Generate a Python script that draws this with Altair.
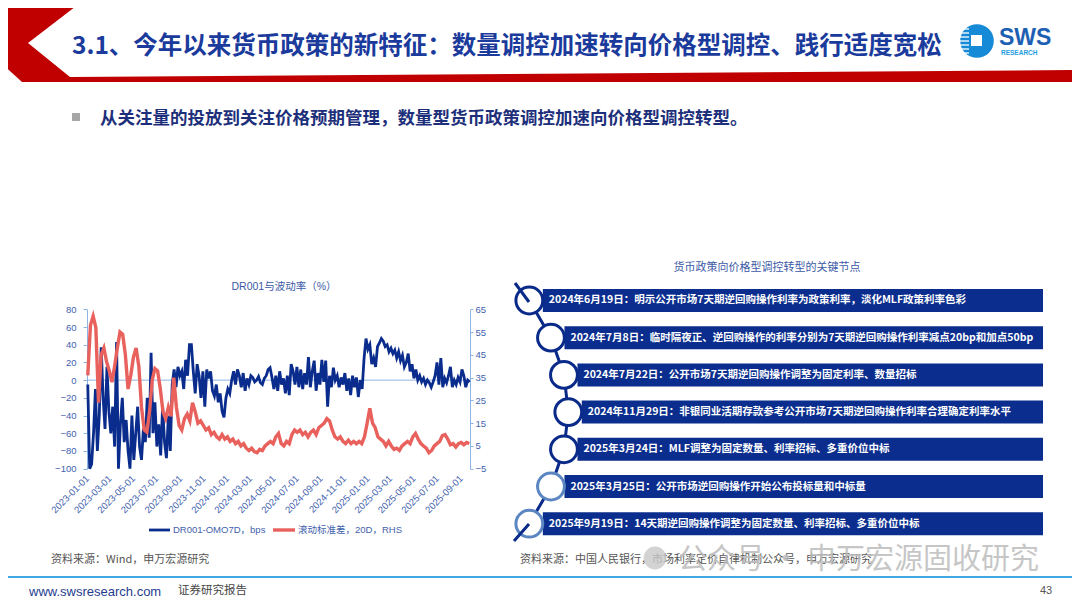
import altair as alt
import pandas as pd

W, H = 1064, 592
CJK = "Noto Sans CJK SC"
SANS = "Liberation Sans, Arial, Noto Sans CJK SC"

# ---------------- data ----------------
dr_values = [
    -5, -100, -95, -60, -10, -80, -40, 37, -20, -55,
    15, -35, -60, -30, -75, 43, -100, -50, -20, -70,
    -45, -80, -100, -40, -90, -60, -30, -75, -90, -55,
    -70, -20, -65, 31, -60, -25, -75, -50, -85, -30,
    -70, -88, -40, -80, -5, 12, -8, 15, 5, 10,
    -10, 23, 5, 40, 40, 10, -15, 18, 5, -20,
    10, -30, 12, 2, 10, -12, -18, -5, -25, -15,
    -35, -42, -20, -10, -15, 0, 10, -5, 12, 5,
    -8, 8, -12, 2, -5, 5, 3, -2, 0, 4,
    -3, -5, 2, 5, 12, 14, 3, -10, 5, -12,
    10, -5, 2, -15, 5, -17, 18, 10, -5, 15,
    -8, 12, -10, 8, -5, 26, -8, 10, 22, -12,
    8, -5, 23, -2, 22, -30, 5, -8, 14, 0,
    5, -8, 3, -5, 8, -12, 2, -17, 5, -8,
    3, -19, 0, -10, 25, 47, 35, 40, 18, 25,
    15, 38, 42, 47, 44, 38, 40, 32, 36, 30,
    34, 25, 32, 22, 28, 15, 20, 30, 10, 18,
    2, 12, 0, 5, -2, 2, -5, 0, -3, -8,
    -2, 5, 20, -5, 25, -8, 2, -3, 5, 15,
    -8, 0, -5, 3, -2, 12, 5, -8, 0, -2,
]
std_values = [
    36, 58, 62, 57, 24, 45, 48, 42, 38, 33,
    40, 48, 55, 54, 45, 30, 36, 44, 48, 40,
    22, 12, 11, 20, 34, 39, 38, 30, 20, 17,
    22, 18, 35, 22, 14, 12, 17, 19, 16, 24,
    20, 15, 16, 14, 12, 13, 10, 11, 9, 8,
    10, 8, 9, 7, 8, 6, 7, 5, 6, 4,
    3, 4, 2.5, 2, 3.5, 3, 5, 6, 7, 6,
    9, 10.5, 6, 5, 7, 6, 10, 12, 11, 12,
    10, 11, 9, 11, 12, 10, 13, 14, 15, 17,
    16, 12, 9, 8, 9, 7, 6, 7.5, 6, 7,
    6, 7, 6, 9, 15, 21.5, 15, 13, 9, 8,
    7, 5, 7, 5, 3.5, 4, 3, 5, 6, 7,
    6, 9, 10.5, 8, 6, 5, 4, 2, 3, 5,
    6, 7, 9.5, 10, 8, 5.5, 6, 4.5, 6, 6.5,
    5.5, 6.5, 6,
]
dr_dates = pd.date_range("2023-01-03", periods=len(dr_values), freq="5D").strftime("%Y-%m-%d").tolist()
std_dates = pd.date_range("2023-01-03", periods=len(std_values), freq="7D").strftime("%Y-%m-%d").tolist()

x_ticks = ["2023-01-01", "2023-03-01", "2023-05-01", "2023-07-01", "2023-09-01",
           "2023-11-01", "2024-01-01", "2024-03-01", "2024-05-01", "2024-07-01",
           "2024-09-01", "2024-11-01", "2025-01-01", "2025-03-01", "2025-05-01",
           "2025-07-01", "2025-09-01"]
left_ticks = [-100, -80, -60, -40, -20, 0, 20, 40, 60, 80]
right_ticks = [-5, 5, 15, 25, 35, 45, 55, 65]

series_names = ["DR001-OMO7D，bps", "滚动标准差，20D，RHS"]

events = [
    "2024年6月19日：明示公开市场7天期逆回购操作利率为政策利率，淡化MLF政策利率色彩",
    "2024年7月8日：临时隔夜正、逆回购操作的利率分别为7天期逆回购操作利率减点20bp和加点50bp",
    "2024年7月22日：公开市场7天期逆回购操作调整为固定利率、数量招标",
    "2024年11月29日：非银同业活期存款参考公开市场7天期逆回购操作利率合理确定利率水平",
    "2025年3月24日：MLF调整为固定数量、利率招标、多重价位中标",
    "2025年3月25日：公开市场逆回购操作开始公布投标量和中标量",
    "2025年9月19日：14天期逆回购操作调整为固定数量、利率招标、多重价位中标",
]
ring_colors = ["#0a2a8a"] * 5 + ["#5b86c2"] * 2

title_text = "3.1、今年以来货币政策的新特征：数量调控加速转向价格型调控、践行适度宽松"
subtitle_text = "从关注量的投放到关注价格预期管理，数量型货币政策调控加速向价格型调控转型。"
chart_title = "DR001与波动率（%）"
tl_title = "货币政策向价格型调控转型的关键节点"
source_left = "资料来源：Wind，申万宏源研究"
source_right = "资料来源：中国人民银行，市场利率定价自律机制公众号，申万宏源研究"
watermark = "公众号 · 申万宏源固收研究"

# header chevron shape (decoration, page pixels)
hdr_piece = ["a", "a", "a", "b", "b", "c", "c", "c"]
hdr_x = [0, 22, 28, 28, 84, 28, 70, 1080]
hdr_top = [0, 0, 0, 0, 0, 43, 77, 70]
hdr_bot = [62, 82, 82, 43, 0, 82, 82, 82]

# ---------------- helpers ----------------
one = pd.DataFrame({"k": [0]})


def P(v):
    return v - 8


def label(text, x, y, size, color, weight="normal", align="left", font=CJK, **kw):
    return alt.Chart(one).mark_text(
        text=text, align=align, baseline="middle", fontSize=size, color=color,
        fontWeight=weight, font=font, **kw
    ).encode(x=alt.value(P(x)), y=alt.value(P(y)))


def rect(x1, y1, x2, y2, color, **kw):
    return alt.Chart(one).mark_rect(color=color, **kw).encode(
        x=alt.value(P(x1)), x2=alt.value(P(x2)), y=alt.value(P(y1)), y2=alt.value(P(y2)))


def seg(x1, y1, x2, y2, color, width):
    return alt.Chart(one).mark_rule(color=color, strokeWidth=width).encode(
        x=alt.value(P(x1)), x2=alt.value(P(x2)), y=alt.value(P(y1)), y2=alt.value(P(y2)))


pxs = alt.Scale(domain=[8, 1072], range=[0, 1064], nice=False, zero=False)
pys = alt.Scale(domain=[8, 600], range=[0, 592], nice=False, zero=False)

# ---------------- header ----------------
hdr_df = pd.DataFrame({"piece": hdr_piece, "x": hdr_x, "y": hdr_top, "y2": hdr_bot})
header = alt.Chart(hdr_df).mark_area(color="#c00000", orient="vertical").encode(
    x=alt.X("x:Q", scale=pxs, axis=None),
    y=alt.Y("y:Q", scale=pys, axis=None),
    y2="y2:Q",
    detail="piece:N",
)

logo = [
    alt.Chart(one).mark_point(shape="circle", filled=True, size=1130, color="#168ad6", opacity=1)
    .encode(x=alt.value(P(977)), y=alt.value(P(41))),
    rect(971, 35, 982, 46, "white"),
]
for yy in [29, 33, 37, 41, 45, 49, 53]:
    logo.append(seg(958, yy, 969, yy, "white", 1.3))
logo += [
    label("SWS", 999, 37.5, 23, "#1d5fb3", weight="bold", font="Liberation Sans, Arial"),
    label("RESEARCH", 1001, 53, 6.5, "#1e9de0", weight="bold", font="Liberation Sans, Arial"),
]

title = label(title_text, 72, 47, 24.5, "#1a3a9c", weight="bold")
bullet = rect(72, 113, 80, 121, "#a6a6a6")
subtitle = label(subtitle_text, 100, 118.5, 17.5, "#1d2f7a", weight="bold")

# ---------------- line chart ----------------
AXB = "#3f62ad"
AXL = "#8db4e2"
t0 = alt.DateTime(year=2023, month=1, date=1, utc=True)
t1 = alt.DateTime(year=2025, month=9, date=25, utc=True)
xs = alt.Scale(type="utc", domain=[t0, t1], range=[P(87), P(470)])
ys_l = alt.Scale(domain=[-100, 80], range=[P(468.7), P(309.3)], nice=False, zero=False)
ys_r = alt.Scale(domain=[-5, 65], range=[P(468.7), P(309.3)], nice=False, zero=False)
tick_dt = [alt.DateTime(year=int(s[:4]), month=int(s[5:7]), date=int(s[8:10]), utc=True) for s in x_ticks]

x_axis = alt.Axis(
    orient="bottom", offset=P(468.7) - H, values=tick_dt,
    labelExpr="utcFormat(datum.value, '%Y-%m-%d')",
    labelAngle=-45, labelAlign="right", labelBaseline="middle",
    labelFont=SANS, labelFontSize=9.5, labelColor=AXB, labelPadding=8,
    domain=False, ticks=False, grid=False, title=None,
    labelOverlap=False, labelFlush=False,
)
x_enc = alt.X("date:T", scale=xs, axis=x_axis)

dr_df = pd.DataFrame({"date": dr_dates, "v": dr_values})
std_df = pd.DataFrame({"date": std_dates, "v": std_values})

blue = alt.Chart(dr_df).mark_line(color="#0a2c8c", strokeWidth=2.8).encode(
    x=x_enc,
    y=alt.Y("v:Q", scale=ys_l, axis=alt.Axis(
        orient="left", offset=-P(87), values=left_ticks, grid=False, title=None,
        domainColor=AXL, tickColor=AXL, tickSize=4, labelPadding=7,
        labelFont=SANS, labelFontSize=9.5, labelColor=AXB)),
)
red = alt.Chart(std_df).mark_line(color="#e8615d", strokeWidth=3.4).encode(
    x=x_enc,
    y=alt.Y("v:Q", scale=ys_r, axis=alt.Axis(
        orient="right", offset=-(W - P(470)), values=right_ticks, grid=False, title=None,
        domainColor=AXL, tickColor=AXL, tickSize=3, labelPadding=2,
        labelFont=SANS, labelFontSize=9.5, labelColor=AXB)),
)
zero = alt.Chart(one).mark_rule(color=AXL, strokeWidth=1).encode(
    y=alt.Y(datum=0, type="quantitative", scale=ys_l, axis=None),
    x=alt.value(P(87)), x2=alt.value(P(470)),
)
linechart = alt.layer(zero, blue, red).resolve_scale(y="independent")

chart_texts = [
    label(chart_title, 284, 287, 10.5, "#3b5aa6", align="center", font=SANS),
    seg(149, 530, 170, 530, "#0a2c8c", 2.8),
    label(series_names[0], 173, 530, 9.5, AXB, font=SANS),
    seg(273, 530, 295, 530, "#e8615d", 3.4),
    label(series_names[1], 298, 530, 9.5, AXB, font=SANS),
]

# ---------------- timeline ----------------
tl = pd.DataFrame({"idx": list(range(len(events))), "text": events, "ring": ring_colors})
tl["cx"] = 568.3 - 4.33 * (tl["idx"] - 3) ** 2
tl["bx"] = tl["cx"] + 13.5
tl["tx"] = tl["bx"] + 6

band = alt.Scale(type="band", domain=list(range(len(events))), range=[P(289), P(535.2)],
                 paddingInner=0.382, paddingOuter=0)
ty = alt.Y("idx:O", scale=band, axis=None)
NAVY = "#0a2a8a"
conn = alt.Chart(tl).mark_line(color=NAVY, strokeWidth=3).encode(
    x=alt.X("cx:Q", scale=pxs, axis=None), y=ty, order="idx:Q")
boxes = alt.Chart(tl).mark_rect(color="#0b2e8e").encode(
    x=alt.X("bx:Q", scale=pxs, axis=None), x2=alt.value(P(1043)), y=ty)
circles = alt.Chart(tl).mark_point(shape="circle", size=720, fill="white", fillOpacity=1,
                                   strokeWidth=3, opacity=1).encode(
    x=alt.X("cx:Q", scale=pxs, axis=None), y=ty,
    stroke=alt.Stroke("ring:N", scale=None))
texts = alt.Chart(tl).mark_text(align="left", baseline="middle", font=CJK, fontWeight="bold",
                                fontSize=10.5, color="white").encode(
    x=alt.X("tx:Q", scale=pxs, axis=None), y=ty, text="text:N")
timeline = alt.layer(conn, boxes, circles, texts)

tl_extra = [
    seg(515, 283, 529, 302, NAVY, 3),
    seg(529, 524, 514, 541, NAVY, 3),
    label(tl_title, 767, 268, 11, "#3b5aa6", align="center"),
]

# ---------------- footer ----------------
footer = [
    label(source_left, 51, 560, 11, "#555555"),
    label(source_right, 520, 560, 11, "#555555"),
    alt.Chart(one).mark_point(shape="circle", filled=True, size=520, color="#c8c8c8", opacity=0.8)
    .encode(x=alt.value(P(655)), y=alt.value(P(558))),
    label(watermark, 678, 560, 29, "#bdbdbd", opacity=0.85),
    rect(0, 576, 1080, 578, "#41a9e1"),
    label("www.swsresearch.com", 29, 591.5, 13, "#1f3d8f", font="Liberation Sans, Arial"),
    label("证券研究报告", 178, 591, 11.5, "#444444"),
    label("43", 1040, 591, 11, "#555555", font="Liberation Sans, Arial"),
]

layers = [header] + logo + [title, bullet, subtitle, linechart] + chart_texts + [timeline] + tl_extra + footer

chart = alt.layer(*layers).resolve_scale(x="independent", y="independent").properties(
    width=W, height=H, padding=0, autosize=alt.AutoSizeParams(type="none"), background="white"
).configure_view(stroke=None)

chart.save("out.html", embed_options={"renderer": "svg", "actions": False})
